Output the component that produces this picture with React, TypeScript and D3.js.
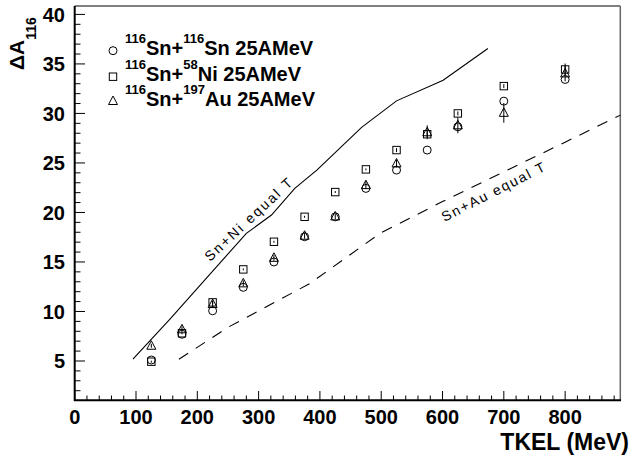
import React from "react";
import * as d3 from "d3";

const tkel = [125, 175, 225, 275, 325, 375, 425, 475, 525, 575, 625, 700, 800];
const snSn = [5.1, 7.7, 10.07, 12.44, 15.0, 17.55, 19.56, 22.43, 24.28, 26.3, 28.65, 31.24, 33.43];
const snNi = [4.93, 7.8, 10.92, 14.25, 17.04, 19.56, 22.06, 24.35, 26.3, 27.9, 30.0, 32.76, 34.44];
const snAu = [6.54, 8.2, 10.75, 12.84, 15.42, 17.65, 19.6, 22.76, 24.95, 28.1, 28.8, 30.06, 34.04];
const snAuErr = [0.2, 0.3, 0.3, 0.3, 0.3, 0.3, 0.3, 0.4, 0.4, 0.7, 0.8, 1.0, 0.8];
const snNiErr = [0.1, 0.1, 0.2, 0.1, 0.1, 0.1, 0.1, 0.1, 0.2, 0.3, 0.2, 0.2, 0.6];

const niLineX = [95, 155, 280, 321, 359, 395, 468, 525, 601, 674];
const niLineY = [5.2, 9.21, 17.89, 19.74, 22.43, 24.28, 28.59, 31.27, 33.36, 36.56];
const auLineX = [170, 250, 384, 498, 600, 700, 800, 890];
const auLineY = [5.17, 8.4, 12.84, 17.89, 21.1, 24.1, 27.1, 29.83];

const xMajor = [0, 100, 200, 300, 400, 500, 600, 700, 800];
const yMajor = [5, 10, 15, 20, 25, 30, 35, 40];

const FONT = "'Liberation Sans', Arial, Helvetica, sans-serif";

export default function App() {
  const x = d3.scaleLinear().domain([0, 890]).range([74.7, 620.3]);
  const y = d3.scaleLinear().domain([1.03, 40.85]).range([400.3, 6]);
  const xMinor = d3.range(0, 890, 20).filter((v) => v % 100 !== 0);
  const yMinor = d3.range(2, 41, 1).filter((v) => v % 5 !== 0);
  const line = d3.line<[number, number]>().x((d) => x(d[0])).y((d) => y(d[1]));
  const niPts = niLineX.map((v, i) => [v, niLineY[i]] as [number, number]);
  const auPts = auLineX.map((v, i) => [v, auLineY[i]] as [number, number]);

  const circle = (cx: number, cy: number, key: string) => (
    <circle key={key} cx={cx} cy={cy} r={4} fill="none" stroke="#000" strokeWidth={1} />
  );
  const square = (cx: number, cy: number, key: string) => (
    <rect key={key} x={cx - 3.7} y={cy - 3.7} width={7.4} height={7.4} fill="none" stroke="#000" strokeWidth={1} />
  );
  const tri = (cx: number, cy: number, key: string) => (
    <path key={key} d={`M${cx},${cy - 5}L${cx + 4.5},${cy + 3.5}L${cx - 4.5},${cy + 3.5}Z`} fill="none" stroke="#000" strokeWidth={1} />
  );

  return (
    <svg width={633} height={457} style={{ position: "absolute", left: 0, top: 0, background: "#fff" }} fontFamily={FONT}>
      <rect x={0} y={0} width={633} height={457} fill="#fff" />
      {/* frame */}
      <line x1={74.7} y1={6} x2={620.3} y2={6} stroke="#000" strokeWidth={1} />
      <line x1={620.3} y1={6} x2={620.3} y2={400.3} stroke="#666" strokeWidth={1.5} />
      {/* ticks */}
      {xMajor.map((v) => (
        <line key={"xM" + v} x1={x(v)} x2={x(v)} y1={400.3} y2={391} stroke="#000" strokeWidth={1} />
      ))}
      {xMinor.map((v) => (
        <line key={"xm" + v} x1={x(v)} x2={x(v)} y1={400.3} y2={395.5} stroke="#000" strokeWidth={1} />
      ))}
      {yMajor.map((v) => (
        <line key={"yM" + v} x1={74.7} x2={85} y1={y(v)} y2={y(v)} stroke="#000" strokeWidth={1} />
      ))}
      {yMinor.map((v) => (
        <line key={"ym" + v} x1={74.7} x2={80.5} y1={y(v)} y2={y(v)} stroke="#000" strokeWidth={1} />
      ))}
      <line x1={74.7} y1={6} x2={74.7} y2={401} stroke="#000" strokeWidth={2} />
      <line x1={74} y1={400.3} x2={621} y2={400.3} stroke="#000" strokeWidth={2} />
      {/* tick labels */}
      {xMajor.map((v) => (
        <text key={"xl" + v} x={x(v)} y={423.5} textAnchor="middle" fontSize={20} fontWeight="bold">
          {v}
        </text>
      ))}
      {yMajor.map((v) => (
        <text key={"yl" + v} x={65} y={y(v) + 7.2} textAnchor="end" fontSize={20} fontWeight="bold">
          {v}
        </text>
      ))}
      {/* axis titles */}
      <text x={629} y={450} textAnchor="end" fontSize={23} fontWeight="bold">
        TKEL (MeV)
      </text>
      <text transform="translate(24,70) rotate(-90)" fontSize={21} fontWeight="bold">
        ΔA
        <tspan fontSize={14} dy={12}>116</tspan>
      </text>
      {/* curves */}
      <path d={line(niPts) || ""} fill="none" stroke="#000" strokeWidth={1.1} />
      <path d={line(auPts) || ""} fill="none" stroke="#000" strokeWidth={1.1} strokeDasharray="11,9" />
      <text transform="translate(210,262) rotate(-43)" fontSize={14} textLength={114} lengthAdjust="spacing">
        Sn+Ni  equal T
      </text>
      <text transform="translate(444.5,222) rotate(-27)" fontSize={14} textLength={114} lengthAdjust="spacing">
        Sn+Au  equal T
      </text>
      {/* error bars */}
      {tkel.map((v, i) => (
        <line key={"ea" + i} x1={x(v)} x2={x(v)} y1={y(snAu[i] - snAuErr[i])} y2={y(snAu[i] + snAuErr[i])} stroke="#000" strokeWidth={1} />
      ))}
      {tkel.map((v, i) => (
        <line key={"en" + i} x1={x(v)} x2={x(v)} y1={y(snNi[i] - snNiErr[i])} y2={y(snNi[i] + snNiErr[i])} stroke="#000" strokeWidth={1} />
      ))}
      {/* markers */}
      {tkel.map((v, i) => circle(x(v), y(snSn[i]), "c" + i))}
      {tkel.map((v, i) => square(x(v), y(snNi[i]), "s" + i))}
      {tkel.map((v, i) => tri(x(v), y(snAu[i]), "t" + i))}
      {/* legend */}
      {circle(113, 50.7, "lc")}
      {square(113, 76.7, "ls")}
      {tri(113, 101, "lt")}
      <text x={125} y={55} fontSize={20} fontWeight="bold">
        <tspan fontSize={13} dy={-11.7}>116</tspan>
        <tspan dy={11.7}>Sn+</tspan>
        <tspan fontSize={13} dy={-11.7}>116</tspan>
        <tspan dy={11.7}>Sn 25AMeV</tspan>
      </text>
      <text x={125} y={80.5} fontSize={20} fontWeight="bold">
        <tspan fontSize={13} dy={-11.7}>116</tspan>
        <tspan dy={11.7}>Sn+</tspan>
        <tspan fontSize={13} dy={-11.7}>58</tspan>
        <tspan dy={11.7}>Ni 25AMeV</tspan>
      </text>
      <text x={125} y={105.5} fontSize={20} fontWeight="bold">
        <tspan fontSize={13} dy={-11.7}>116</tspan>
        <tspan dy={11.7}>Sn+</tspan>
        <tspan fontSize={13} dy={-11.7}>197</tspan>
        <tspan dy={11.7}>Au 25AMeV</tspan>
      </text>
    </svg>
  );
}
